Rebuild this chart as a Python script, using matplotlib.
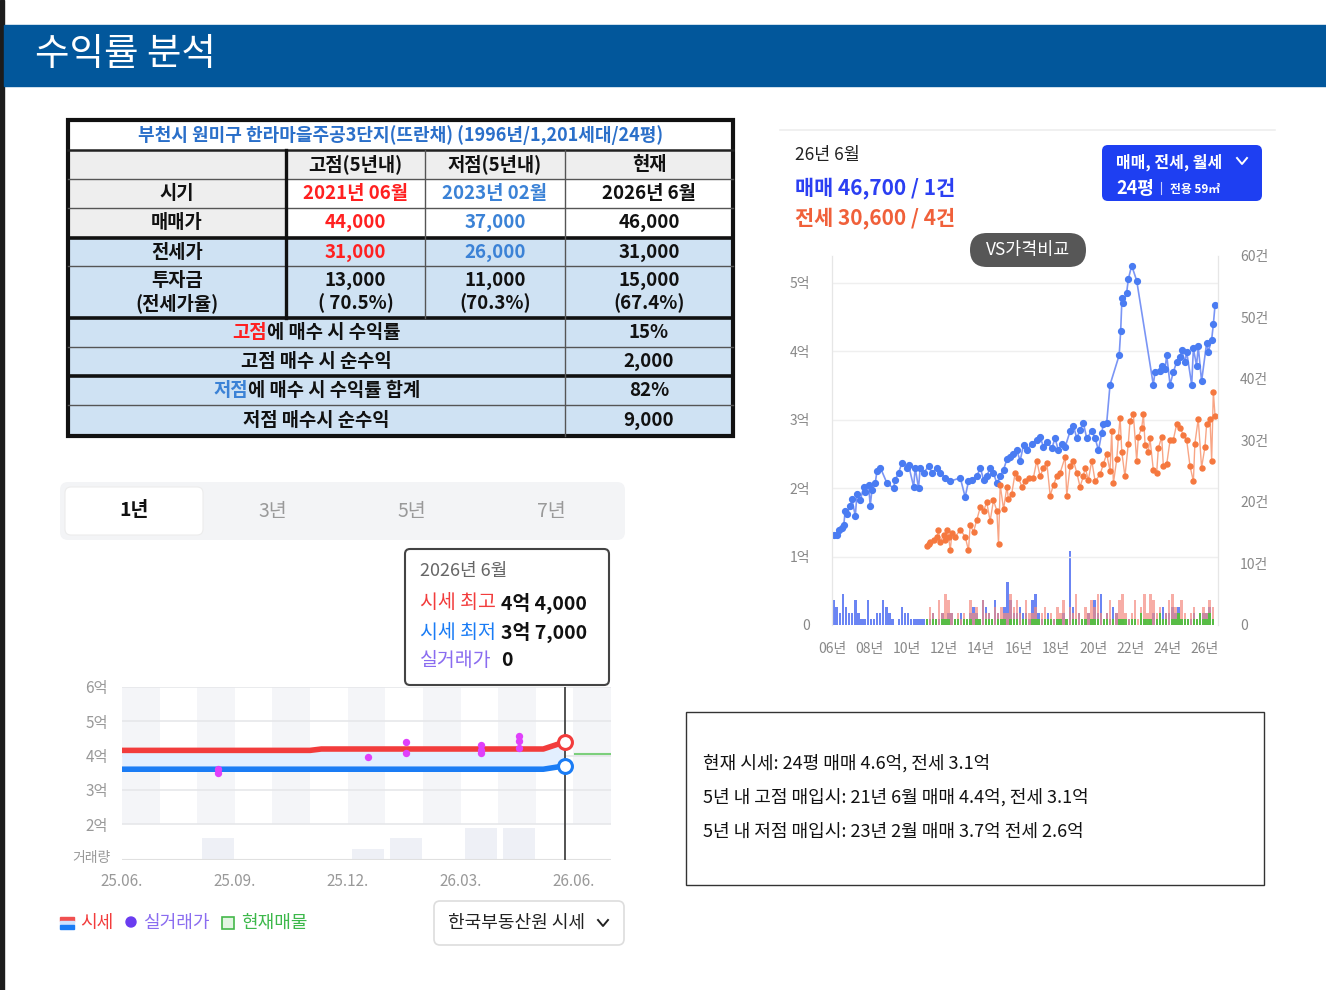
import numpy as np
import matplotlib
matplotlib.use('Agg')
import matplotlib.pyplot as plt
from matplotlib.patches import Rectangle, FancyBboxPatch, Circle

plt.rcParams['font.family'] = ['Noto Sans CJK KR', 'DejaVu Sans']

W, H = 1326, 990

# ---------------- table data ----------------
table_title = "부천시 원미구 한라마을주공3단지(뜨란채) (1996년/1,201세대/24평)"
col_heads = ["", "고점(5년내)", "저점(5년내)", "현재"]
row_period = ["시기", "2021년 06월", "2023년 02월", "2026년 6월"]
row_sale = ["매매가", "44,000", "37,000", "46,000"]
row_jeonse = ["전세가", "31,000", "26,000", "31,000"]
row_invest = ["투자금\n(전세가율)", "13,000\n( 70.5%)", "11,000\n(70.3%)", "15,000\n(67.4%)"]
summary_labels = [[("고점", "#ff2020"), ("에 매수 시 수익률", "#111111")],
                  [("고점 매수 시 순수익", "#111111")],
                  [("저점", "#3b82d6"), ("에 매수 시 수익률 합계", "#111111")],
                  [("저점 매수시 순수익", "#111111")]]
summary_values = ["15%", "2,000", "82%", "9,000"]

# ---------------- long-term chart (억, 건) ----------------
sale_t = [2006.09, 2006.27, 2006.36, 2006.54, 2006.63, 2006.71, 2006.80, 2006.98, 2007.07, 2007.25,
          2007.34, 2007.52, 2007.70, 2007.79, 2007.96, 2008.05, 2008.14, 2008.32, 2008.41, 2008.59,
          2008.95, 2009.30, 2009.39, 2009.57, 2009.75, 2010.02, 2010.11, 2010.38, 2010.46, 2010.64,
          2010.73, 2010.91, 2011.18, 2011.36, 2011.63, 2011.80, 2012.07, 2012.34, 2012.88, 2013.14,
          2013.32, 2013.50, 2013.77, 2013.95, 2014.13, 2014.30, 2014.48, 2014.66, 2014.84, 2015.02,
          2015.20, 2015.38, 2015.55, 2015.73, 2015.91, 2016.09, 2016.27, 2016.45, 2016.71, 2016.98,
          2017.16, 2017.34, 2017.52, 2017.79, 2017.96, 2018.14, 2018.32, 2018.50, 2018.77, 2018.95,
          2019.13, 2019.30, 2019.48, 2019.66, 2019.93, 2020.11, 2020.29, 2020.46, 2020.55, 2020.73,
          2020.91, 2021.40, 2021.48, 2021.55, 2021.63, 2021.80, 2021.89, 2022.07, 2022.34, 2023.23,
          2023.32, 2023.59, 2023.68, 2023.86, 2023.95, 2024.13, 2024.30, 2024.48, 2024.66, 2024.75,
          2024.93, 2025.02, 2025.29, 2025.38, 2025.55, 2025.64, 2025.82, 2026.09, 2026.18, 2026.36,
          2026.45, 2026.54]
sale_v = [1.32, 1.31, 1.39, 1.41, 1.46, 1.67, 1.62, 1.74, 1.84, 1.59,
          1.92, 1.82, 2.02, 1.94, 2.05, 1.74, 1.97, 2.07, 2.25, 2.30,
          2.07, 2.00, 2.12, 2.22, 2.37, 2.30, 2.33, 2.02, 2.30, 2.00,
          2.30, 2.22, 2.32, 2.22, 2.30, 2.22, 2.15, 2.10, 2.15, 1.87,
          2.10, 2.12, 2.17, 2.30, 2.12, 2.17, 2.30, 2.22, 2.07, 2.17,
          2.27, 2.42, 2.45, 2.50, 2.55, 2.40, 2.63, 2.55, 2.65, 2.70,
          2.75, 2.60, 2.68, 2.58, 2.73, 2.55, 2.65, 2.60, 2.83, 2.90,
          2.73, 2.85, 2.95, 2.73, 2.83, 2.73, 2.55, 2.80, 2.93, 2.95,
          3.51, 3.94, 4.29, 4.77, 4.70, 4.85, 5.05, 5.25, 5.03, 3.51,
          3.69, 3.71, 3.79, 3.74, 3.94, 3.51, 3.69, 3.84, 3.91, 4.02,
          3.84, 3.99, 3.51, 4.04, 3.79, 4.07, 3.56, 4.12, 3.99, 4.17,
          4.39, 4.67]

jeonse_t = [2011.09, 2011.18, 2011.27, 2011.45, 2011.63, 2011.71, 2011.80, 2011.98, 2012.07, 2012.16,
            2012.25, 2012.34, 2012.43, 2012.61, 2012.88, 2013.14, 2013.32, 2013.41, 2013.59, 2013.77,
            2013.95, 2014.13, 2014.30, 2014.48, 2014.66, 2014.84, 2014.93, 2015.02, 2015.20, 2015.38,
            2015.46, 2015.64, 2015.82, 2016.00, 2016.18, 2016.36, 2016.54, 2016.80, 2016.98, 2017.16,
            2017.34, 2017.52, 2017.70, 2017.88, 2018.05, 2018.23, 2018.50, 2018.59, 2018.77, 2018.95,
            2019.13, 2019.30, 2019.48, 2019.57, 2019.75, 2019.93, 2020.11, 2020.38, 2020.55, 2020.73,
            2020.91, 2021.00, 2021.09, 2021.27, 2021.36, 2021.45, 2021.54, 2021.71, 2021.89, 2021.98,
            2022.16, 2022.34, 2022.43, 2022.61, 2022.70, 2022.79, 2022.96, 2023.05, 2023.23, 2023.41,
            2023.50, 2023.68, 2023.77, 2023.95, 2024.13, 2024.30, 2024.48, 2024.66, 2024.84, 2025.02,
            2025.20, 2025.38, 2025.46, 2025.64, 2025.82, 2026.00, 2026.09, 2026.27, 2026.36, 2026.45,
            2026.54]
jeonse_v = [1.16, 1.19, 1.21, 1.24, 1.29, 1.39, 1.21, 1.31, 1.24, 1.39,
            1.29, 1.09, 1.34, 1.29, 1.39, 1.29, 1.09, 1.46, 1.36, 1.54,
            1.72, 1.67, 1.79, 1.52, 1.82, 1.67, 1.19, 2.05, 1.69, 2.02,
            1.84, 1.92, 2.22, 2.15, 2.02, 2.10, 2.15, 2.15, 2.40, 2.17,
            2.30, 2.37, 1.89, 2.05, 2.17, 2.22, 2.45, 1.89, 2.32, 2.40,
            2.22, 2.02, 2.17, 2.30, 2.12, 2.40, 2.10, 2.20, 2.35, 2.50,
            2.25, 2.83, 2.07, 2.42, 2.75, 3.03, 2.53, 2.17, 2.65, 2.98,
            3.08, 2.40, 2.75, 2.88, 3.08, 2.63, 2.53, 2.73, 2.27, 2.22,
            2.58, 2.75, 2.32, 2.35, 2.70, 2.70, 2.93, 2.88, 2.78, 2.70,
            2.32, 2.10, 2.65, 3.01, 2.30, 2.60, 2.93, 3.01, 2.40, 3.41,
            3.06]

# trade counts per two-month block
sale_cnt = [4, 3, 2, 5, 3, 2,  2, 4, 2, 1, 1, 4,  1, 1, 2, 2, 4, 3,  2, 1, 0, 1, 3, 2,
            2, 1, 1, 1, 1, 1,  1, 1, 2, 1, 1, 2,  1, 2, 2, 1, 1, 2,  1, 1, 2, 3, 2, 1,
            4, 3, 2, 1, 4, 2,  1, 3, 7, 4, 2, 2,  3, 2, 2, 1, 4, 5,  2, 1, 1, 2, 1, 1,
            1, 1, 2, 1, 12, 3, 1, 2, 1, 1, 2, 1,  4, 2, 5, 1, 2, 1,  3, 2, 1, 1, 0, 1,
            1, 1, 0, 1, 1, 0,  1, 2, 1, 1, 3, 2,  2, 3, 2, 3, 1, 1,  1, 1, 2, 1, 2, 2,
            2, 3, 1]
jeonse_cnt = [1, 3, 2, 1, 4, 2,  5, 4, 2, 1, 2, 1,  2, 1, 4, 2, 3, 1,  4, 2, 2, 1, 3, 2,
              3, 2, 2, 5, 3, 4,  2, 1, 4, 2, 2, 3,  1, 2, 3, 1, 2, 1,  3, 2, 4, 1, 3, 2,
              5, 2, 1, 3, 2, 4,  3, 5, 2, 1, 2, 4,  1, 2, 4, 5, 2, 1,  2, 4, 1, 3, 5, 2,
              5, 4, 2, 3, 1, 2,  4, 5, 3, 2, 4, 2,  1, 2, 3, 1, 2, 3,  2, 4, 3]
rent_cnt = [1, 0, 1, 1, 0, 1,  1, 1, 0, 1, 1, 0,  1, 1, 1, 0, 1, 1,  0, 1, 1, 1, 0, 1,
            1, 1, 0, 1, 1, 1,  0, 1, 1, 0, 1, 1,  1, 0, 1, 1, 1, 0,  1, 1, 0, 1, 0, 1,
            1, 0, 1, 1, 0, 1,  1, 1, 0, 1, 1, 0,  1, 0, 1, 1, 1, 0,  1, 1, 0, 2, 1, 1,
            1, 0, 1, 2, 1, 1,  0, 1, 1, 2, 1, 1,  1, 0, 1, 1, 2, 1,  1, 2, 1]
year_ticks = [2006, 2008, 2010, 2012, 2014, 2016, 2018, 2020, 2022, 2024, 2026]

# ---------------- 1-year chart (months since 25.06) ----------------
price_m = [0, 5.0, 5.3, 11.2, 11.78]
price_hi = [4.15, 4.15, 4.19, 4.19, 4.40]
price_lo = [3.60, 3.60, 3.60, 3.60, 3.70]
trade_m = [2, 2, 6, 7, 7, 9, 9, 9, 10, 10, 10]
trade_p = [3.62, 3.50, 3.96, 4.38, 4.08, 4.32, 4.17, 4.08, 4.58, 4.41, 4.22]
vol_m = [2, 6, 7, 9, 10]
vol_n = [2, 1, 2, 3, 3]
listing_p = 4.03
month_labels = ["25.06.", "25.09.", "25.12.", "26.03.", "26.06."]

fig = plt.figure(figsize=(W / 100, H / 100), dpi=100)
bg = fig.add_axes([0, 0, 1, 1])
bg.set_xlim(0, W)
bg.set_ylim(H, 0)
bg.axis('off')
renderer = fig.canvas.get_renderer()


def frac(x0, y0, x1, y1):
    return [x0 / W, 1 - y1 / H, (x1 - x0) / W, (y1 - y0) / H]


def rich(x, y, parts, ha='left', gap=0, **kw):
    # parts: (text, color, weight, size)
    arts = [bg.text(x, y, s, color=c, fontweight=w, fontsize=fs, ha='left', va='center', **kw)
            for s, c, w, fs in parts]
    widths = [a.get_window_extent(renderer).width for a in arts]
    total = sum(widths) + gap * (len(arts) - 1)
    cur = x - total / 2 if ha == 'center' else x
    for a, w in zip(arts, widths):
        a.set_x(cur)
        cur += w + gap
    return arts


# ---------------- page frame ----------------
bg.add_patch(Rectangle((0, 0), 4, H, color='#1c1c1c'))
bg.add_patch(Rectangle((4, 25), W - 4, 61, color='#02579b'))
bg.text(35, 55, "수익률 분석", color='white', fontsize=27, va='center', ha='left')

# ---------------- table ----------------
cx = [68, 286, 425, 565, 733]
ry = [120, 150, 179, 208, 238, 266, 318, 347, 376, 405, 436]
gray, blue_fill = '#eeeeee', '#cfe2f3'
red_t, blue_t = '#ff2020', '#3b82d6'

bg.add_patch(Rectangle((cx[0], ry[0]), cx[4] - cx[0], ry[1] - ry[0], color='white'))
bg.add_patch(Rectangle((cx[0], ry[1]), cx[4] - cx[0], ry[2] - ry[1], color=gray))
for r in (2, 3):
    bg.add_patch(Rectangle((cx[0], ry[r]), cx[1] - cx[0], ry[r + 1] - ry[r], color=gray))
    bg.add_patch(Rectangle((cx[1], ry[r]), cx[4] - cx[1], ry[r + 1] - ry[r], color='white'))
bg.add_patch(Rectangle((cx[0], ry[4]), cx[4] - cx[0], ry[10] - ry[4], color=blue_fill))

bg.text((cx[0] + cx[4]) / 2, (ry[0] + ry[1]) / 2 + 1, table_title, color='#2a6fc9',
        fontsize=13, fontweight='bold', ha='center', va='center')

rows = [col_heads, row_period, row_sale, row_jeonse, row_invest]
colors = [['#111'] * 4,
          ['#111', red_t, blue_t, '#111'],
          ['#111', red_t, blue_t, '#111'],
          ['#111', red_t, blue_t, '#111'],
          ['#111'] * 4]
for i, row in enumerate(rows):
    yc = (ry[i + 1] + ry[i + 2]) / 2
    for j, s in enumerate(row):
        bg.text((cx[j] + cx[j + 1]) / 2, yc, s, color=colors[i][j], fontsize=13.5,
                fontweight='bold', ha='center', va='center', linespacing=1.25)

for k, (lab, val) in enumerate(zip(summary_labels, summary_values)):
    yc = (ry[6 + k] + ry[7 + k]) / 2
    rich((cx[0] + cx[3]) / 2, yc, [(s, c, 'bold', 13.5) for s, c in lab], ha='center')
    bg.text((cx[3] + cx[4]) / 2, yc, val, color='#111', fontsize=13.5,
            fontweight='bold', ha='center', va='center')

# grid lines
for y in ry[2:10]:
    if y in (238, 318, 376):
        bg.plot([cx[0], cx[4]], [y, y], color='#111', lw=2.6)
    else:
        bg.plot([cx[0], cx[4]], [y, y], color='#555', lw=1.0)
bg.plot([cx[0], cx[4]], [ry[1], ry[1]], color='#222', lw=1.8)
bg.plot([cx[1], cx[1]], [ry[1], ry[6]], color='#111', lw=2.4)
bg.plot([cx[2], cx[2]], [ry[1], ry[6]], color='#555', lw=1.0)
bg.plot([cx[3], cx[3]], [ry[1], ry[10]], color='#555', lw=1.0)
bg.add_patch(Rectangle((cx[0], ry[0]), cx[4] - cx[0], ry[10] - ry[0], fill=False,
                       edgecolor='#111', lw=3))

# ---------------- tab bar ----------------
bg.add_patch(FancyBboxPatch((64, 486), 557, 50, boxstyle="round,pad=4,rounding_size=8",
                            facecolor='#f3f4f6', edgecolor='none'))
bg.add_patch(FancyBboxPatch((68, 490), 132, 42, boxstyle="round,pad=3,rounding_size=6",
                            facecolor='white', edgecolor='#ececec', lw=0.8))
for lab, x, c, w in [("1년", 134, '#111', 'bold'), ("3년", 273, '#999', 'normal'),
                     ("5년", 412, '#999', 'normal'), ("7년", 551, '#999', 'normal')]:
    bg.text(x, 511, lab, color=c, fontweight=w, fontsize=14, ha='center', va='center')

# ---------------- 1-year chart ----------------
ax1 = fig.add_axes(frac(122, 687, 611, 860))
ylo, yhi = 0.95, 6.0
ax1.set_xlim(0, 13)
ax1.set_ylim(ylo, yhi)
band_bottom = (2 - ylo) / (yhi - ylo)
for m in range(0, 13, 2):
    ax1.axvspan(m, m + 1, ymin=band_bottom, ymax=1, color='#f4f5f8', lw=0, zorder=0)
for v in [2, 3, 4, 5, 6]:
    ax1.axhline(v, color='#e6e7ea', lw=1.2, zorder=1)
ax1.axhline(ylo, color='#e0e0e0', lw=1.5, zorder=1)

vax = ax1.twinx()
vax.set_ylim(0, 16)
vax.bar([m + 0.55 for m in vol_m], vol_n, width=0.85, color='#eef0f6', zorder=0)
vax.axis('off')
ax1.set_zorder(vax.get_zorder() + 1)
ax1.patch.set_visible(False)

ax1.fill_between(price_m, price_lo, price_hi, color='#e3efff', zorder=2, lw=0)
ax1.plot(price_m, price_hi, color='#f23c3c', lw=4, zorder=3, solid_capstyle='round')
ax1.plot(price_m, price_lo, color='#1a7cf5', lw=4, zorder=3, solid_capstyle='round')
ax1.plot(price_m[-1], price_hi[-1], 'o', ms=10, mfc='white', mec='#f23c3c', mew=2.2, zorder=5)
ax1.plot(price_m[-1], price_lo[-1], 'o', ms=10, mfc='white', mec='#1a7cf5', mew=2.2, zorder=5)
ax1.scatter([m + 0.55 for m in trade_m], trade_p, s=28, color='#e040fb', zorder=4, lw=0)
ax1.plot([12.05, 13], [listing_p, listing_p], color='#7ccf7c', lw=1.5, zorder=3)
ax1.axvline(price_m[-1], color='#444', lw=1.3, zorder=4)

ax1.set_yticks([2, 3, 4, 5, 6])
ax1.set_yticklabels([f"{v}억" for v in [2, 3, 4, 5, 6]])
ax1.set_xticks([0, 3, 6, 9, 12])
ax1.set_xticklabels(month_labels)
ax1.tick_params(length=0, labelsize=11, labelcolor='#999', pad=9)
ax1.tick_params(axis='y', pad=10)
for s in ax1.spines.values():
    s.set_visible(False)
bg.text(111, 858, "거래량", color='#999', fontsize=10, ha='right', va='center')

# tooltip
bg.add_patch(FancyBboxPatch((407, 551), 200, 132, boxstyle="round,pad=2,rounding_size=5",
                            facecolor='white', edgecolor='#444', lw=1.5))
bg.text(420, 571, "2026년 6월", color='#666', fontsize=13, va='center')
rich(420, 603, [("시세 최고", '#f23c3c', 'normal', 14), ("4억 4,000", '#111', 'bold', 14)], gap=5)
rich(420, 632, [("시세 최저", '#1a7cf5', 'normal', 14), ("3억 7,000", '#111', 'bold', 14)], gap=5)
rich(420, 661, [("실거래가", '#8a6cf0', 'normal', 14), ("0", '#111', 'bold', 14)], gap=10)

# legend
bg.add_patch(Rectangle((60, 917), 14, 4, color='#f05050'))
bg.add_patch(Rectangle((60, 921), 14, 4, color='#cfe3ff'))
bg.add_patch(Rectangle((60, 925), 14, 4, color='#1a7cf5'))
bg.text(80, 923, "시세", color='#f23c3c', fontsize=13, va='center')
bg.add_patch(Circle((131, 922), 5, color='#6a3cf0'))
bg.text(143, 923, "실거래가", color='#8a6cf0', fontsize=13, va='center')
bg.add_patch(Rectangle((222, 917), 12, 12, facecolor='#e3f5e3', edgecolor='#44b84a', lw=1.2))
bg.text(241, 923, "현재매물", color='#3cb84a', fontsize=13, va='center')

bg.add_patch(FancyBboxPatch((436, 903), 186, 40, boxstyle="round,pad=2,rounding_size=6",
                            facecolor='white', edgecolor='#dddddd', lw=1.2))
bg.text(448, 923, "한국부동산원 시세", color='#222', fontsize=13, va='center')
bg.plot([598, 603, 608], [920, 926, 920], color='#222', lw=1.4)

# ---------------- long-term chart header ----------------
bg.plot([780, 1275], [130, 130], color='#eeeeee', lw=1.2)
bg.text(795, 155, "26년 6월", color='#222', fontsize=12.5, va='center')
bg.text(795, 188, "매매 46,700 / 1건", color='#2b3ff2', fontsize=15, fontweight='bold', va='center')
bg.text(795, 218, "전세 30,600 / 4건", color='#f0603a', fontsize=15, fontweight='bold', va='center')

bg.add_patch(FancyBboxPatch((1104, 147), 156, 52, boxstyle="round,pad=2,rounding_size=6",
                            facecolor='#1e3ff2', edgecolor='none'))
bg.text(1116, 162, "매매, 전세, 월세", color='white', fontsize=11.5, fontweight='bold', va='center')
bg.plot([1237, 1242, 1247], [158, 164, 158], color='white', lw=1.4)
bg.text(1116, 188, "24평", color='white', fontsize=13, fontweight='bold', va='center')
bg.plot([1161, 1161], [182, 194], color='#c8d0ff', lw=0.8)
bg.text(1170, 189, "전용 59㎡", color='white', fontsize=8.5, fontweight='bold', va='center')

bg.add_patch(FancyBboxPatch((972, 235), 112, 30, boxstyle="round,pad=2,rounding_size=17",
                            facecolor='#575757', edgecolor='none'))
bg.text(1028, 250, "VS가격비교", color='white', fontsize=12.5, ha='center', va='center')

# ---------------- long-term chart ----------------
ax2 = fig.add_axes(frac(832, 256, 1218, 625))
cnt = ax2.twinx()
ax2.set_zorder(cnt.get_zorder() + 1)
ax2.patch.set_visible(False)

sale_x = [2006 + k / 6 + 1 / 12 for k in range(len(sale_cnt))]
jeonse_x = [2011 + k / 6 + 1 / 12 for k in range(len(jeonse_cnt))]
rent_x = [2011 + k / 6 + 1 / 12 for k in range(len(rent_cnt))]
cnt.bar(sale_x, sale_cnt, width=0.13, color='#3a5cf0', alpha=0.75, lw=0)
cnt.bar(jeonse_x, jeonse_cnt, width=0.13, color='#f48a80', alpha=0.7, lw=0)
cnt.bar(rent_x, rent_cnt, width=0.13, color='#4cc23c', alpha=0.9, lw=0)
cnt.set_ylim(0, 60)
cnt.set_yticks([0, 10, 20, 30, 40, 50, 60])
cnt.set_yticklabels(["0"] + [f"{v}건" for v in [10, 20, 30, 40, 50, 60]])

ax2.plot(sale_t, sale_v, color='#7a95f5', lw=1.2, marker='o', ms=4.2,
         mfc='#4a7cf2', mec='#4a7cf2')
ax2.plot(jeonse_t, jeonse_v, color='#f8a585', lw=1.0, marker='o', ms=3.6,
         mfc='#f5783f', mec='#f5783f')
ax2.set_xlim(2006, 2026.7)
ax2.set_ylim(0, 5.39)
ax2.set_yticks([0, 1, 2, 3, 4, 5])
ax2.set_yticklabels(["0"] + [f"{v}억" for v in [1, 2, 3, 4, 5]])
for v in [1, 2, 3, 4, 5]:
    ax2.axhline(v, color='#efefef', lw=1, zorder=0)
ax2.set_xticks(year_ticks)
ax2.set_xticklabels([f"{str(y)[2:]}년" for y in year_ticks])

for a in (ax2, cnt):
    a.tick_params(length=0, labelsize=10, labelcolor='#888', pad=12)
    for s in a.spines.values():
        s.set_visible(False)
    a.spines['left'].set_visible(True)
    a.spines['right'].set_visible(True)
    a.spines['left'].set_color('#e6e6e6')
    a.spines['right'].set_color('#e6e6e6')
ax2.tick_params(axis='y', pad=16)
cnt.tick_params(axis='y', pad=16)

# ---------------- summary box ----------------
bg.add_patch(Rectangle((686, 712), 578, 173, fill=False, edgecolor='#333', lw=1.0))
notes = ["현재 시세: 24평 매매 4.6억, 전세 3.1억",
         "5년 내 고점 매입시: 21년 6월 매매 4.4억, 전세 3.1억",
         "5년 내 저점 매입시: 23년 2월 매매 3.7억 전세 2.6억"]
for line, y in zip(notes, [763, 797, 832]):
    bg.text(703, y, line, color='#111', fontsize=13, va='center')

fig.savefig('out.png', dpi=100)
